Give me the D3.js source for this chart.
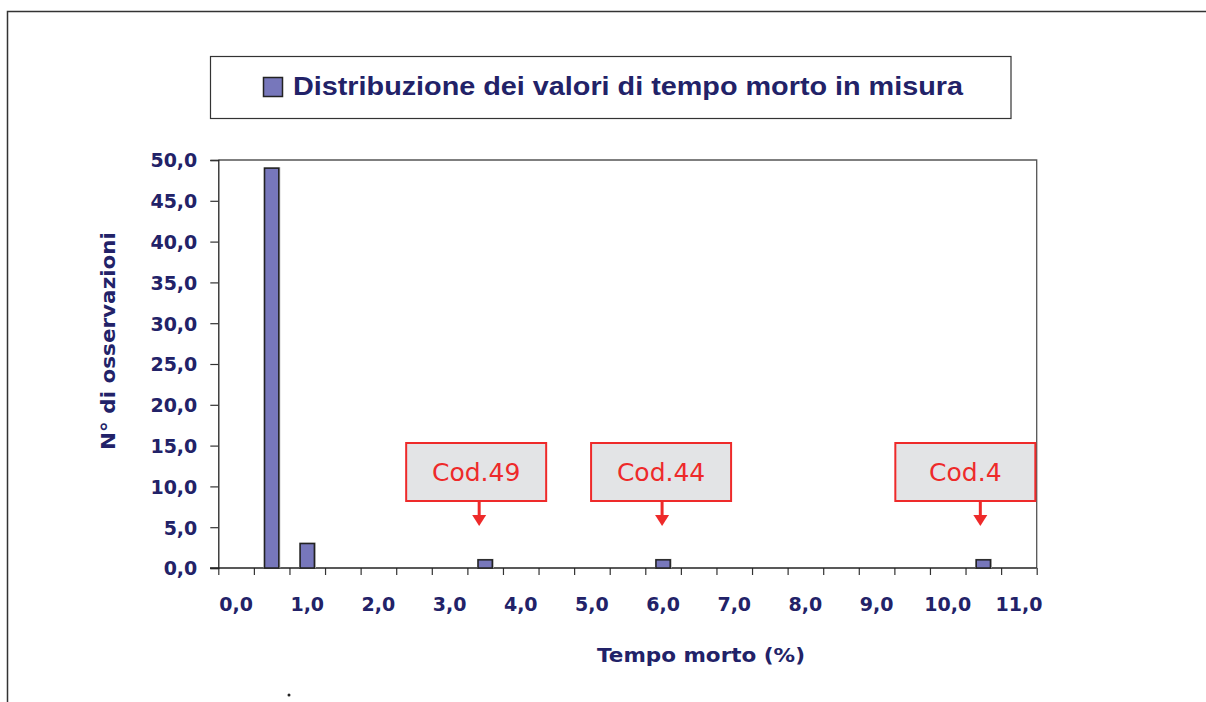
<!DOCTYPE html>
<html>
<head>
<meta charset="utf-8">
<script src="https://cdn.jsdelivr.net/npm/d3@7"></script>
<style>
  body { margin: 0; background: #fff; }
  svg { display: block; }
</style>
</head>
<body>
<div id="chart"></div>
<script>
// dati
const categories = ["0,0","0,5","1,0","1,5","2,0","2,5","3,0","3,5","4,0","4,5","5,0","5,5",
                    "6,0","6,5","7,0","7,5","8,0","8,5","9,0","9,5","10,0","10,5","11,0"];
const counts = [0,49,3,0,0,0,0,1,0,0,0,0,1,0,0,0,0,0,0,0,0,1,0];
const yTicks = [0,5,10,15,20,25,30,35,40,45,50];
const notes = [
  { cat: "3,5", label: "Cod.49" },
  { cat: "6,0", label: "Cod.44" },
  { cat: "10,5", label: "Cod.4" }
];
const arrowShift = [-6, -1, -3];   // freccia rispetto al centro della barra
const boxShift = [-3, -1, -15];    // riquadro rispetto alla freccia

const TITLE = "Distribuzione dei valori di tempo morto in misura";
const NAVY = "#222268";
const BAR = "#7777bb";

const W = 1206, H = 702;
const pLeft = 218.3, pRight = 1036.7, pTop = 160, pBottom = 568;

const svg = d3.select("#chart").append("svg").attr("width", W).attr("height", H);

// cornice esterna
svg.append("path")
  .attr("d", `M7.5,${H} V11.5 H${W}`)
  .attr("fill", "none").attr("stroke", "#333").attr("stroke-width", 1.5);

// legenda
svg.append("rect")
  .attr("x", 210.5).attr("y", 56.5).attr("width", 800.5).attr("height", 62)
  .attr("fill", "#fff").attr("stroke", "#333").attr("stroke-width", 1.2);
svg.append("rect")
  .attr("x", 263.5).attr("y", 77.5).attr("width", 19).attr("height", 19)
  .attr("fill", BAR).attr("stroke", "#222").attr("stroke-width", 1.5);
svg.append("text")
  .attr("x", 293).attr("y", 95)
  .attr("font-family", "'Liberation Sans', Arial, sans-serif")
  .attr("font-weight", "bold").attr("font-size", 26.5)
  .attr("fill", NAVY)
  .attr("textLength", 670).attr("lengthAdjust", "spacingAndGlyphs")
  .text(TITLE);

// scale
const x = d3.scaleBand().domain(categories).range([pLeft, pRight]).padding(0);
const xEdge = d3.scaleLinear().domain([0, categories.length]).range([pLeft, pRight]);
const y = d3.scaleLinear().domain([0, 50]).range([pBottom, pTop]);

// bordo area del grafico
svg.append("path")
  .attr("d", `M${pLeft},${pTop} H${pRight} V${pBottom}`)
  .attr("fill", "none").attr("stroke", "#555").attr("stroke-width", 1.3);

const fmt = d => d3.format(".1f")(d).replace(".", ",");

// asse Y
const yAxis = svg.append("g")
  .attr("transform", `translate(${pLeft},0)`)
  .call(d3.axisLeft(y).tickValues(yTicks).tickFormat(fmt).tickSize(8).tickPadding(13));
yAxis.select(".domain").attr("stroke", "#222").attr("stroke-width", 1.3);
yAxis.selectAll(".tick line").attr("stroke", "#333").attr("stroke-width", 1.2);
yAxis.selectAll("text")
  .attr("font-family", "'DejaVu Sans', Verdana, sans-serif")
  .attr("font-weight", "bold").attr("font-size", 19).attr("fill", NAVY)
  .attr("dy", "0.36em");

// asse X: tacche ai bordi delle categorie
const xTicksG = svg.append("g")
  .attr("transform", `translate(0,${pBottom})`)
  .call(d3.axisBottom(xEdge).tickValues(d3.range(categories.length + 1)).tickFormat("").tickSize(7).tickSizeOuter(0));
xTicksG.select(".domain").remove();
xTicksG.selectAll(".tick line").attr("stroke", "#333").attr("stroke-width", 1.2);
svg.append("line")
  .attr("x1", 210).attr("x2", pRight).attr("y1", pBottom).attr("y2", pBottom)
  .attr("stroke", "#222").attr("stroke-width", 1.3);

// etichette X (una ogni due categorie)
const xLab = svg.append("g")
  .attr("transform", `translate(0,${pBottom})`)
  .call(d3.axisBottom(x).tickValues(categories.filter((d, i) => i % 2 === 0)).tickSize(0).tickPadding(30));
xLab.select(".domain").remove();
xLab.selectAll("text")
  .attr("font-family", "'DejaVu Sans', Verdana, sans-serif")
  .attr("font-weight", "bold").attr("font-size", 19).attr("fill", NAVY);

// barre
const bw = x.bandwidth() * 0.4;
const bars = categories.map((c, i) => ({ c, v: counts[i] })).filter(d => d.v > 0);
svg.append("g").selectAll("rect").data(bars).join("rect")
  .attr("x", d => x(d.c) + x.bandwidth() * 0.3 - 1)
  .attr("y", d => y(d.v) - 1)
  .attr("width", bw + 2.5).attr("height", d => y(0) - y(d.v) + 1)
  .attr("fill", "#b5b5b5");
svg.append("g").selectAll("rect").data(bars).join("rect")
  .attr("x", d => x(d.c) + x.bandwidth() * 0.3)
  .attr("y", d => y(d.v))
  .attr("width", bw).attr("height", d => y(0) - y(d.v))
  .attr("fill", BAR).attr("stroke", "#222").attr("stroke-width", 1.5);

// titoli degli assi
svg.append("text")
  .attr("transform", "translate(115,341) rotate(-90)")
  .attr("text-anchor", "middle")
  .attr("font-family", "'DejaVu Sans', Verdana, sans-serif")
  .attr("font-weight", "bold").attr("font-size", 20).attr("fill", NAVY)
  .attr("textLength", 218).attr("lengthAdjust", "spacingAndGlyphs")
  .text("N° di osservazioni");
svg.append("text")
  .attr("x", 701).attr("y", 662)
  .attr("text-anchor", "middle")
  .attr("font-family", "'DejaVu Sans', Verdana, sans-serif")
  .attr("font-weight", "bold").attr("font-size", 20).attr("fill", NAVY)
  .attr("textLength", 208).attr("lengthAdjust", "spacingAndGlyphs")
  .text("Tempo morto (%)");

// richiami
const boxW = 140, boxH = 58, boxY = 443;
notes.forEach((n, i) => {
  const ax = x(n.cat) + x.bandwidth() / 2 + arrowShift[i];
  const bx = ax - boxW / 2 + boxShift[i];
  const g = svg.append("g");
  g.append("rect")
    .attr("x", bx).attr("y", boxY).attr("width", boxW).attr("height", boxH)
    .attr("fill", "#e3e4e6").attr("stroke", "#ee2a2a").attr("stroke-width", 2);
  g.append("text")
    .attr("x", bx + boxW / 2).attr("y", boxY + 38)
    .attr("text-anchor", "middle")
    .attr("font-family", "'DejaVu Sans', Tahoma, sans-serif")
    .attr("font-size", 25).attr("fill", "#ee2a2a")
    .text(n.label);
  g.append("line")
    .attr("x1", ax).attr("x2", ax).attr("y1", boxY + boxH).attr("y2", 516)
    .attr("stroke", "#ee2a2a").attr("stroke-width", 3);
  g.append("path")
    .attr("d", `M${ax - 7},515 L${ax + 7},515 L${ax},526 Z`)
    .attr("fill", "#ee2a2a");
});

// puntino sotto il grafico
svg.append("circle").attr("cx", 289).attr("cy", 695).attr("r", 1.5).attr("fill", "#222");
</script>
</body>
</html>
